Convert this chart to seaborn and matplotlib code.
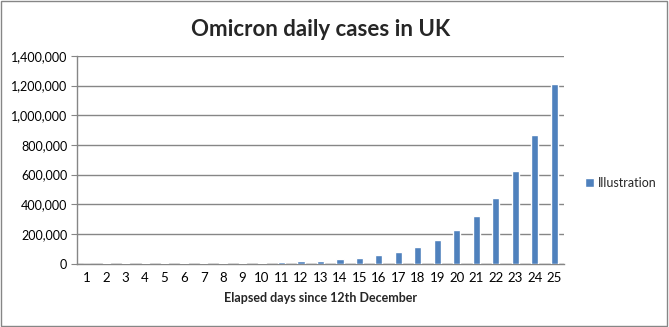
import matplotlib
matplotlib.use("Agg")
import matplotlib.pyplot as plt
import matplotlib.ticker as mticker
from matplotlib.patches import Rectangle
import seaborn as sns
import pandas as pd

days = list(range(1, 26))
cases = [300, 420, 600, 850, 1200, 1700, 2400, 3400, 4800, 6800,
         9600, 14000, 20000, 28000, 40000, 56000, 80000, 114000, 162000, 225000,
         318000, 440000, 622000, 866000, 1212000]
series_name = "Illustration"
title = "Omicron daily cases in UK"
xlabel = "Elapsed days since 12th December"
yticks = [0, 200000, 400000, 600000, 800000, 1000000, 1200000, 1400000]

sns.set_style("white")
plt.rcParams['font.family'] = ['Lato', 'DejaVu Sans']

df = pd.DataFrame({"day": [str(d) for d in days], "cases": cases})

fig = plt.figure(figsize=(6.69, 3.27), dpi=100)
ax = fig.add_axes([0.115, 0.194, 0.728, 0.635])

sns.barplot(data=df, x="day", y="cases", color="#4F81BD", width=0.37,
            saturation=1, ax=ax, label=series_name, zorder=3)

ax.set_xlim(-0.5, len(days) - 0.5)
ax.set_ylim(0, 1400000)
ax.set_yticks(yticks)
ax.yaxis.set_major_formatter(mticker.FuncFormatter(lambda v, p: f"{int(v):,}"))
ax.grid(axis="y", color="#868686", linewidth=1, zorder=0)
ax.set_axisbelow(True)

for s in ["top", "right"]:
    ax.spines[s].set_visible(False)
for s in ["left", "bottom"]:
    ax.spines[s].set_visible(True)
    ax.spines[s].set_color("#868686")
    ax.spines[s].set_linewidth(1)

ax.tick_params(axis="x", which="major", length=0, labelsize=9.5, pad=6, labelcolor="black")
ax.set_xticks([i - 0.5 for i in range(len(days) + 1)], minor=True)
ax.tick_params(axis="x", which="minor", length=4, color="#868686", direction="out")
ax.tick_params(axis="y", length=4, color="#868686", direction="out", labelsize=9,
               pad=3, left=True, labelcolor="black")

ax.set_xlabel(xlabel, fontsize=9, fontweight="bold", labelpad=6)
ax.set_ylabel("")
ax.set_title(title, fontsize=16, fontweight="bold", pad=14)

ax.legend(loc="center left", bbox_to_anchor=(1.02, 0.39), frameon=False,
          fontsize=9, handlelength=0.7, handleheight=0.7, handletextpad=0.3)

fig.patches.append(Rectangle((0.002, 0.003), 0.995, 0.993, transform=fig.transFigure,
                             fill=False, edgecolor="#868686", linewidth=1))

fig.savefig("out.png", dpi=100, facecolor="white")
